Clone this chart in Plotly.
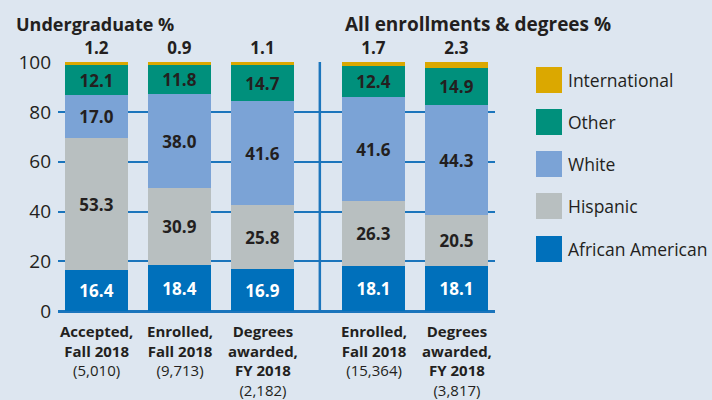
import plotly.graph_objects as go

# Category positions (gap between the two groups) and labels
x_pos = [0, 1, 2, 3.34, 4.34]
cat_lines = [
    ["Accepted,", "Fall 2018"],
    ["Enrolled,", "Fall 2018"],
    ["Degrees", "awarded,", "FY 2018"],
    ["Enrolled,", "Fall 2018"],
    ["Degrees", "awarded,", "FY 2018"],
]
cat_counts = ["(5,010)", "(9,713)", "(2,182)", "(15,364)", "(3,817)"]

# Shares by group, percent
african_american = [16.4, 18.4, 16.9, 18.1, 18.1]
hispanic = [53.3, 30.9, 25.8, 26.3, 20.5]
white = [17.0, 38.0, 41.6, 41.6, 44.3]
other = [12.1, 11.8, 14.7, 12.4, 14.9]
international = [1.2, 0.9, 1.1, 1.7, 2.3]

y_ticks = [0, 20, 40, 60, 80, 100]

FONT = "Open Sans"
DARK = "#231f20"
BLUE_LINE = "#1b75bc"
BG = "#dde6f0"

series = [
    ("African American", african_american, "#0070bb", "white"),
    ("Hispanic", hispanic, "#b8bfc0", DARK),
    ("White", white, "#7ba3d6", DARK),
    ("Other", other, "#00907c", DARK),
    ("International", international, "#dba800", DARK),
]

fig = go.Figure()
for name, vals, color, tcolor in series:
    top = name == "International"
    fig.add_trace(go.Bar(
        x=x_pos, y=vals, name=name, width=0.76,
        marker=dict(color=color, line=dict(width=0)),
        text=[f"{v:.1f}" for v in vals],
        textposition="outside" if top else "inside",
        insidetextanchor="middle",
        textfont=dict(family=FONT, size=17, color=tcolor, weight="bold"),
        cliponaxis=False,
        showlegend=False,
        hoverinfo="skip",
    ))

W, H = 712, 400
ml, mr, mt, mb = 58, 217, 62, 89
plot_w = W - ml - mr
plot_h = H - mt - mb


def px(pixel_x):
    return (pixel_x - ml) / plot_w


def py(pixel_y):
    return (H - mb - pixel_y) / plot_h


annotations = []
# Category labels under the axis: bold name lines, then the count
for xp, lines, cnt in zip(x_pos, cat_lines, cat_counts):
    label = "<b>" + "<br>".join(lines) + "</b><br>" + cnt
    annotations.append(dict(
        x=xp, y=py(320), xref="x", yref="paper", text=label,
        showarrow=False, xanchor="center", yanchor="top", align="center",
        borderpad=0,
        font=dict(family=FONT, size=15, color=DARK),
    ))

# Panel titles
annotations.append(dict(x=px(14), y=py(24), xref="paper", yref="paper",
                        text="<b>Undergraduate %</b>", showarrow=False,
                        xanchor="left", yanchor="middle",
                        font=dict(family=FONT, size=18, color=DARK)))
annotations.append(dict(x=px(343), y=py(24), xref="paper", yref="paper",
                        text="<b>All enrollments &amp; degrees %</b>", showarrow=False,
                        xanchor="left", yanchor="middle",
                        font=dict(family=FONT, size=19, color=DARK)))

# Legend (top to bottom)
shapes = []
leg_y = [80, 122, 164, 206, 249]
for (name, _, color, _), yc in zip(reversed(series), leg_y):
    shapes.append(dict(type="rect", xref="paper", yref="paper",
                       x0=px(536), x1=px(562),
                       y0=py(yc + 13), y1=py(yc - 13),
                       fillcolor=color, line=dict(width=0)))
    annotations.append(dict(x=px(566), y=py(yc), xref="paper", yref="paper",
                            text=name, showarrow=False, xanchor="left", yanchor="middle",
                            font=dict(family=FONT, size=17.5, color=DARK)))

# Divider between the two panels
shapes.append(dict(type="line", xref="x", yref="paper", x0=2.69, x1=2.69, y0=0, y1=1,
                   line=dict(color=BLUE_LINE, width=2.5)))

fig.update_layout(
    width=W, height=H,
    margin=dict(l=ml, r=mr, t=mt, b=mb, autoexpand=False),
    paper_bgcolor=BG, plot_bgcolor=BG,
    barmode="stack", bargap=0,
    annotations=annotations, shapes=shapes,
    xaxis=dict(range=[-0.464, 4.80], showticklabels=False, showgrid=False,
               zeroline=False, fixedrange=True),
    yaxis=dict(range=[0, 100.15], tickvals=y_ticks, showgrid=True,
               gridcolor=BLUE_LINE, gridwidth=1.5, zeroline=True,
               zerolinecolor=BLUE_LINE, zerolinewidth=3,
               tickfont=dict(family=FONT, size=19, color=DARK),
               ticklabelstandoff=6, fixedrange=True),
    font=dict(family=FONT, color=DARK),
)

fig.write_html("out.html", config={"displayModeBar": False})
